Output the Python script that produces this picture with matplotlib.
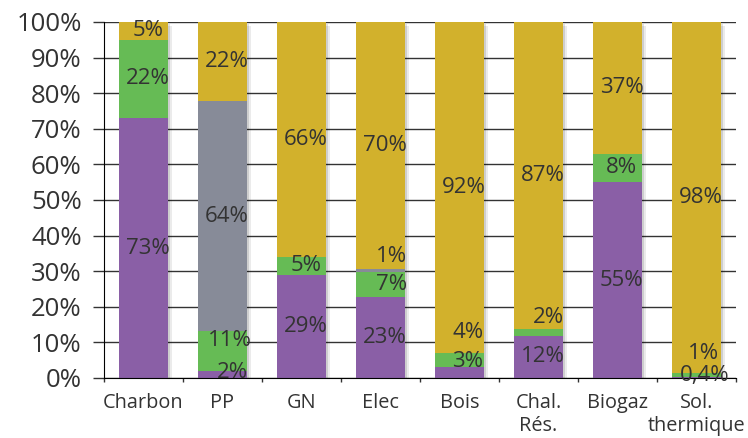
import numpy as np
import matplotlib
matplotlib.use('Agg')
import matplotlib.pyplot as plt
from matplotlib import patheffects
from matplotlib.ticker import MultipleLocator, FixedLocator

plt.rcParams['font.family'] = ['Open Sans', 'DejaVu Sans']

# donnees (parts en %)
categories = ['Charbon', 'PP', 'GN', 'Elec', 'Bois', 'Chal.\nRés.', 'Biogaz', 'Sol.\nthermique']
violet = [73, 2, 29, 23, 3, 12, 55, 0.4]
vert = [22, 11, 5, 7, 4, 2, 8, 1]
gris = [0, 64, 0, 1, 0, 0, 0, 0]
jaune = [5, 22, 66, 70, 92, 87, 37, 98]

series = [violet, vert, gris, jaune]
couleurs = ['#8a5fa6', '#66bb55', '#878b98', '#d2b12c']

# etiquettes deplacees a la main dans l'original : (serie, categorie) -> (dx pt, dy %)
decalages = {
    (1, 1): (2, 3),
    (0, 1): (4, 0.4),
    (2, 3): (5, 4),
    (1, 3): (5, 0),
    (1, 4): (3, 7.6),
    (0, 4): (3, 3),
    (1, 5): (4, 4),
    (1, 7): (2, 6),
    (0, 7): (3, 0.6),
}

x = np.arange(len(categories))
totaux = np.sum(np.array(series, dtype=float), axis=0)
largeur = 0.61

fig = plt.figure(figsize=(7.48, 4.38), dpi=100)
ax = fig.add_axes([0.139, 0.137, 0.845, 0.813])

# ombre des colonnes
ax.bar(x, 100, largeur, color='none', zorder=1.5,
       path_effects=[patheffects.SimplePatchShadow(offset=(1.5, -1.5), shadow_rgbFace='k', alpha=0.12),
                     patheffects.SimplePatchShadow(offset=(3, -3), shadow_rgbFace='k', alpha=0.08)])

bas = np.zeros(len(categories))
for i, (vals, c) in enumerate(zip(series, couleurs)):
    h = np.array(vals, dtype=float) / totaux * 100
    ax.bar(x, h, largeur, bottom=bas, color=c, zorder=2, linewidth=0)
    for j, v in enumerate(vals):
        if v == 0:
            continue
        dx, dy = decalages.get((i, j), (0, 0))
        txt = f'{v:g}%'.replace('.', ',')
        ax.annotate(txt, (x[j], bas[j] + h[j] / 2 + dy), xytext=(3 + dx, 0),
                    textcoords='offset points', ha='center', va='center',
                    fontsize=16, color='#333333', zorder=3)
    bas += h

ax.set_xlim(-0.5, len(categories) - 0.5)
ax.set_ylim(0, 100)
ax.yaxis.set_major_locator(MultipleLocator(10))
ax.set_yticklabels([f'{int(v)}%' for v in ax.get_yticks()])
ax.set_xticks(x)
ax.set_xticklabels(categories, linespacing=1.2)
ax.xaxis.set_minor_locator(FixedLocator(np.arange(-0.5, len(categories), 1.0)))

ax.grid(axis='y', color='#333333', linewidth=1.0)
ax.set_axisbelow(True)
for s in ['top', 'right']:
    ax.spines[s].set_visible(False)
ax.spines['left'].set_color('black')
ax.spines['bottom'].set_color('black')
ax.spines['left'].set_zorder(4)

ax.tick_params(axis='y', direction='out', length=8, width=1, color='#333333',
               labelsize=18.5, labelcolor='#333333', pad=8)
ax.tick_params(axis='x', which='major', length=0, labelsize=14.3, labelcolor='#333333', pad=11)
ax.tick_params(axis='x', which='minor', direction='out', length=3, width=1, color='#333333')

fig.savefig('out.png', dpi=100)
